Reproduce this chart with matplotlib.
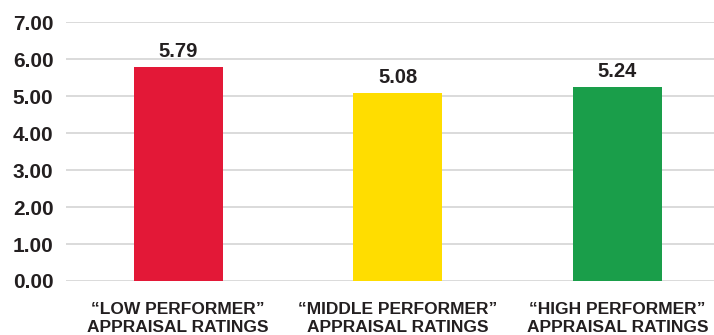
import matplotlib.pyplot as plt

categories = ['\u201cLOW PERFORMER\u201d\nAPPRAISAL RATINGS',
              '\u201cMIDDLE PERFORMER\u201d\nAPPRAISAL RATINGS',
              '\u201cHIGH PERFORMER\u201d\nAPPRAISAL RATINGS']
values = [5.79, 5.08, 5.24]
colors = ['#E31837', '#FFDD00', '#1A9E4A']
yticks = [0, 1, 2, 3, 4, 5, 6, 7]

TEXT = '#231F20'
FONT = ['Liberation Sans', 'DejaVu Sans']

fig = plt.figure(figsize=(7.14, 3.35), dpi=100)
ax = fig.add_axes([66 / 714, 54 / 335, 1 - 66 / 714, (281 - 22.3) / 335])

x = range(len(values))
ax.bar(x, values, width=0.405, color=colors, zorder=3)
for xi, v in zip(x, values):
    ax.text(xi, v + 0.17, '{:.2f}'.format(v), ha='center', va='bottom',
            fontsize=14.5, fontweight='bold', color=TEXT, family=FONT)

ax.set_xlim(-0.51, 2.44)
ax.set_ylim(0, 7)
ax.set_yticks(yticks)
ax.set_yticklabels(['{:.2f}'.format(t) for t in yticks],
                   fontsize=15, fontweight='bold', color=TEXT, family=FONT)
ax.set_xticks(list(x))
ax.set_xticklabels(categories, fontsize=12.5, fontweight='bold', color=TEXT,
                   family=FONT, linespacing=1.28)
ax.tick_params(axis='y', length=0, pad=9)
ax.tick_params(axis='x', length=0, pad=15)
ax.grid(axis='y', color='#d4d4d4', linewidth=1.2, zorder=0)
for s in ax.spines.values():
    s.set_visible(False)

fig.savefig('out.png', dpi=100)
